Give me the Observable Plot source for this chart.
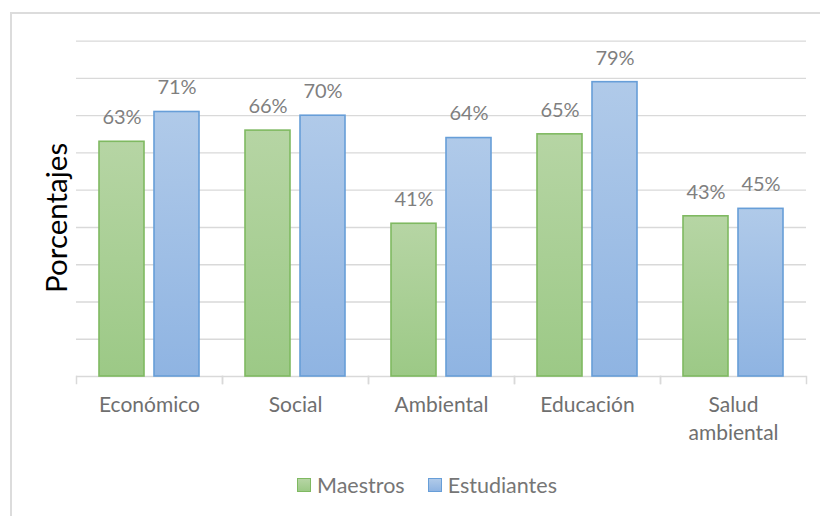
<!DOCTYPE html>
<html>
<head>
<meta charset="utf-8">
<script src="https://cdn.jsdelivr.net/npm/d3@7"></script>
<script src="https://cdn.jsdelivr.net/npm/@observablehq/plot@0.6"></script>
<style>
  html, body { margin: 0; padding: 0; background: #fff; }
  body { width: 820px; height: 516px; position: relative; overflow: hidden; font-family: Lato, "Open Sans", sans-serif; }
  #border { position: absolute; left: 10px; top: 12px; width: 900px; height: 600px; border-left: 2px solid #dcdcdc; border-top: 2px solid #dcdcdc; pointer-events: none; }
  #chart svg { display: block; }
  #legend { display: flex; justify-content: center; align-items: center; height: 20px; margin-top: 15px; padding-left: 34px; color: #767676; font-size: 21.5px; font-family: Lato, sans-serif; }
  .item { display: flex; align-items: center; margin: 0 11.5px; }
  .sw { width: 14px; height: 14px; margin-right: 6px; box-sizing: border-box; }
</style>
</head>
<body>
<div id="border"></div>
<div id="chart"></div>
<div id="legend"></div>
<script>
// ---- data ----
const categories = ["Económico", "Social", "Ambiental", "Educación", "Salud ambiental"];
const series = ["Maestros", "Estudiantes"];
const maestros = [63, 66, 41, 65, 43];
const estudiantes = [71, 70, 64, 79, 45];
const yTicks = [10, 20, 30, 40, 50, 60, 70, 80, 90];
const yLabel = "Porcentajes";

// ---- styles ----
const fills = {Maestros: ["#b6d5a4", "#9cc986"], Estudiantes: ["#b0cae9", "#8fb4e2"]};
const strokes = {Maestros: "#7fb961", Estudiantes: "#679ed8"};
const gradId = {Maestros: "gradM", Estudiantes: "gradE"};

const rows = [];
categories.forEach((c, i) => {
  rows.push({category: c, series: "Maestros", value: maestros[i]});
  rows.push({category: c, series: "Estudiantes", value: estudiantes[i]});
});

const W = 820, H = 460, mT = 40.7, mB = 84, mL = 74, mR = 13;
const plotH = H - mT - mB;

const barMarks = series.map(s => Plot.barY(rows.filter(r => r.series === s), {
  fx: "category", x: "series", y: "value",
  fill: `url(#${gradId[s]})`, stroke: strokes[s], strokeWidth: 1.6
}));

const chart = Plot.plot({
  width: W, height: H,
  marginTop: mT, marginBottom: mB, marginLeft: mL, marginRight: mR,
  style: {fontFamily: "Lato, sans-serif", background: "transparent"},
  fx: {domain: categories, padding: 0, label: null, axis: null},
  x: {domain: series, paddingInner: 0.1786, paddingOuter: 0.398, axis: null},
  y: {domain: [0, 90], label: null, axis: null},
  marks: [
    Plot.gridY(yTicks, {stroke: "#d9d9d9", strokeOpacity: 1, strokeWidth: 1.3}),
    Plot.ruleY([0], {stroke: "#d9d9d9", strokeWidth: 1.5}),
    Plot.frame({anchor: "left", insetTop: plotH, insetBottom: -7, stroke: "#d9d9d9", strokeWidth: 1.5}),
    Plot.frame({anchor: "right", insetTop: plotH, insetBottom: -7, stroke: "#d9d9d9", strokeWidth: 1.5}),
    ...barMarks,
    Plot.text(rows, {
      fx: "category", x: "series", y: "value",
      text: d => `${d.value}%`, dy: -24,
      fill: "#7f7f7f", fontSize: 20
    }),
    Plot.axisFx({
      anchor: "bottom",
      tickSize: 0, tickPadding: 16, fontSize: 21, color: "#6f6f6f", label: null,
      lineHeight: 1.33, tickFormat: d => d.replace(" ", "\n")
    }),
    Plot.text([yLabel], {
      fx: () => categories[0], text: d => d, frameAnchor: "left",
      textAnchor: "middle", lineAnchor: "middle",
      rotate: -90, dx: -19, dy: 9, fontSize: 29.5, fill: "black"
    })
  ]
});

// gradients
const svg = d3.select(chart);
const defs = svg.insert("defs", ":first-child");
series.forEach(s => {
  const g = defs.append("linearGradient").attr("id", gradId[s])
    .attr("x1", 0).attr("y1", 0).attr("x2", 0).attr("y2", 1);
  g.append("stop").attr("offset", "0%").attr("stop-color", fills[s][0]);
  g.append("stop").attr("offset", "100%").attr("stop-color", fills[s][1]);
});

document.getElementById("chart").appendChild(chart);

// legend
const legend = d3.select("#legend");
series.forEach(s => {
  const it = legend.append("div").attr("class", "item");
  it.append("div").attr("class", "sw")
    .style("background", `linear-gradient(${fills[s][0]}, ${fills[s][1]})`)
    .style("border", `1.5px solid ${strokes[s]}`);
  it.append("span").text(s);
});
</script>
</body>
</html>
